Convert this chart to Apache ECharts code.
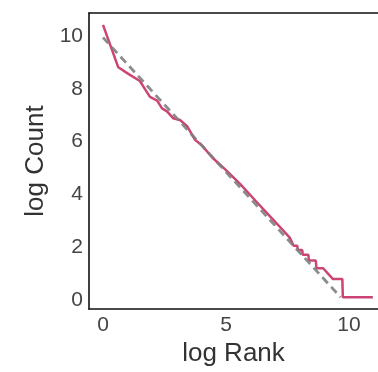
<!DOCTYPE html>
<html><head><meta charset="utf-8">
<script src="https://cdn.jsdelivr.net/npm/echarts@6/dist/echarts.min.js"></script>
<style>html,body{margin:0;padding:0;background:#fff}#c{width:378px;height:372px}</style>
</head><body><div id="c"></div>
<script>
// Observed log-rank vs log-count (pink)
const logRank = [0, 0.62, 1.03, 1.5, 1.7, 1.91, 2.2, 2.4, 2.6, 2.85, 3.13, 3.42, 3.74, 4.03, 4.44, 5.0, 5.58, 6.2, 6.8, 7.3, 7.6, 7.75, 7.9, 7.92, 8.1, 8.12, 8.35, 8.37, 8.65, 8.68, 8.95, 9.35, 9.73, 9.75, 10.97];
const logCount = [10.33, 8.72, 8.47, 8.2, 7.9, 7.6, 7.46, 7.16, 7.05, 6.79, 6.72, 6.49, 5.97, 5.75, 5.3, 4.82, 4.29, 3.66, 3.06, 2.56, 2.25, 1.95, 1.95, 1.79, 1.79, 1.61, 1.61, 1.39, 1.39, 1.10, 1.10, 0.69, 0.69, 0, 0];
// Fitted line (gray dashed)
const fitRank = [0, 9.66];
const fitCount = [9.85, 0];
const xTicks = [0, 5, 10];
const yTicks = [0, 2, 4, 6, 8, 10];

const chart = echarts.init(document.getElementById('c'), null, {renderer: 'canvas'});
const font = 'Liberation Sans, Arial, sans-serif';
const spine = {show: true, onZero: false, lineStyle: {color: '#111', width: 1.6}};
chart.setOption({
  animation: false,
  grid: {left: 89, top: 13, right: 0, bottom: 58, show: false},
  xAxis: [{
    type: 'value', min: -0.57, max: 11.18, position: 'bottom',
    name: 'log Rank', nameLocation: 'middle', nameGap: 29,
    nameTextStyle: {fontFamily: font, fontSize: 26, color: '#333'},
    axisLine: spine,
    axisTick: {show: false},
    splitLine: {show: false},
    axisLabel: {customValues: xTicks, fontFamily: font, fontSize: 21, color: '#444', margin: 6}
  }, {
    type: 'value', min: -0.57, max: 11.18, position: 'top',
    axisLine: spine, axisTick: {show: false}, splitLine: {show: false}, axisLabel: {show: false}
  }],
  yAxis: {
    type: 'value', min: -0.45, max: 10.78,
    name: 'log Count', nameLocation: 'middle', nameGap: 40, nameRotate: 90,
    nameTextStyle: {fontFamily: font, fontSize: 26, color: '#333'},
    axisLine: spine,
    axisTick: {show: false},
    splitLine: {show: false},
    axisLabel: {customValues: yTicks, fontFamily: font, fontSize: 21, color: '#444', margin: 6, verticalAlign: 'top', padding: [-8, 0, 0, 0]}
  },
  series: [
    {type: 'line', data: logRank.map((x, i) => [x, logCount[i]]), showSymbol: false,
     lineStyle: {color: '#cc4476', width: 2.5}, z: 2},
    {type: 'line', data: fitRank.map((x, i) => [x, fitCount[i]]), showSymbol: false,
     lineStyle: {color: '#808080', width: 2.8, type: [8, 5], opacity: 0.9}, z: 3}
  ]
});
</script></body></html>
